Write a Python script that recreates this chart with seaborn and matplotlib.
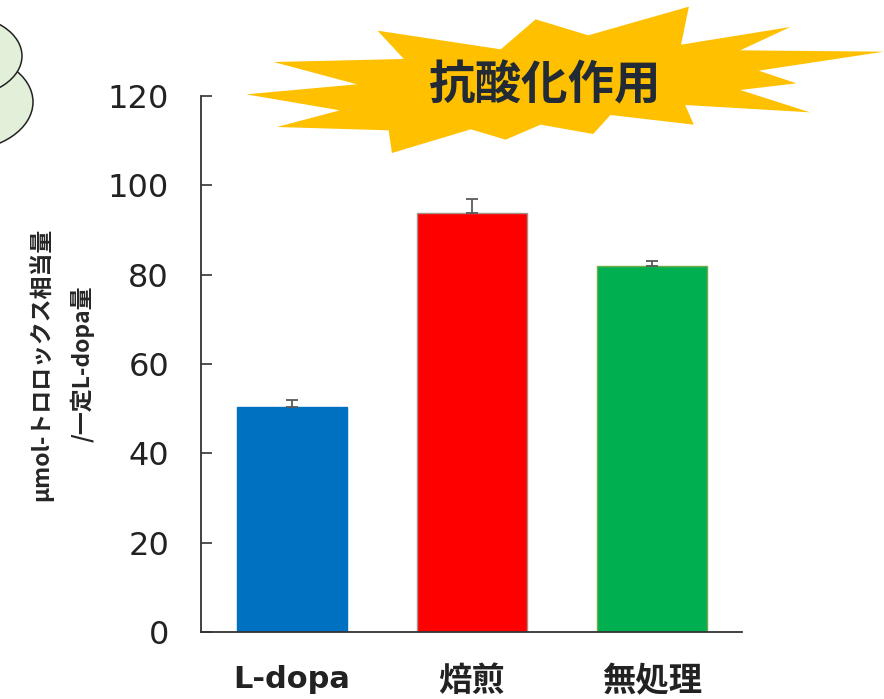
import matplotlib
matplotlib.use("Agg")
import matplotlib.pyplot as plt
from matplotlib.patches import Polygon, Ellipse
import pandas as pd
import seaborn as sns

categories = ["L-dopa", "焙煎", "無処理"]
values = [50.4, 93.8, 81.9]
errors = [1.6, 3.2, 1.1]
bar_colors = ["#0070C0", "#FF0000", "#00B050"]
edge_colors = ["#0070C0", "#A5908A", "#70AD47"]
y_ticks = [0, 20, 40, 60, 80, 100, 120]
y_label = "μmol-トロロックス相当量\n/一定L-dopa量"
burst_text = "抗酸化作用"

CJK = ["Noto Sans CJK JP", "DejaVu Sans"]
W, H = 884, 699

sns.set_theme(style="ticks", rc={"axes.edgecolor": "#333333", "xtick.color": "#222222",
                                 "ytick.color": "#333333", "text.color": "#222222"})
plt.rcParams["font.family"] = CJK

fig = plt.figure(figsize=(W / 100, H / 100), dpi=100, facecolor="white")
ax = fig.add_axes([201 / W, 1 - 632 / H, (742 - 201) / W, (632 - 96) / H])

df = pd.DataFrame({"category": categories, "value": values})
sns.barplot(data=df, x="category", y="value", hue="category", order=categories,
            hue_order=categories, palette=bar_colors, width=0.611, legend=False,
            errorbar=None, saturation=1, ax=ax)
for patch, ec in zip(ax.patches, edge_colors):
    patch.set_edgecolor(ec)
    patch.set_linewidth(1.0)
ax.errorbar(range(len(categories)), values, yerr=[[0] * 3, errors], fmt="none",
            ecolor="#5A5A5A", elinewidth=1.3, capsize=4, capthick=1.3, zorder=5)

ax.set_xlim(-0.5056, 2.5)
ax.set_ylim(0, 120)
ax.set_yticks(y_ticks)
ax.tick_params(axis="y", direction="in", length=8, width=1.2, labelsize=23, pad=23,
               labelcolor="#222222")
ax.tick_params(axis="x", length=0, pad=24)
for lab in ax.get_yticklabels():
    lab.set_fontfamily("DejaVu Sans")
ax.set_xticks(range(3))
ax.set_xticklabels(categories)
for lab, fam, size in zip(ax.get_xticklabels(), [["DejaVu Sans"], CJK, CJK], [22, 24, 24]):
    lab.set_fontfamily(fam)
    lab.set_fontsize(size)
    lab.set_fontweight("bold")
ax.set_xlabel("")
ax.set_ylabel(y_label, fontsize=16.5, fontweight="bold", linespacing=1.9, labelpad=0)
ax.yaxis.set_label_coords((95 - 201) / (742 - 201), 0.5)
sns.despine(ax=ax)
for s in ("left", "bottom"):
    ax.spines[s].set_linewidth(1.3)

# decorative layer in pixel coordinates
deco = fig.add_axes([0, 0, 1, 1], facecolor="none")
deco.set_xlim(0, W)
deco.set_ylim(H, 0)
deco.axis("off")
deco.add_patch(Ellipse((-40, 102), 146, 98, fc="#E2F0D9", ec="#222222", lw=1.1))
deco.add_patch(Ellipse((-40, 56), 124, 82, fc="#E2F0D9", ec="#222222", lw=1.1))
burst_zoom = [(335, 92), (635, 148), (720, 58), (848, 106), (1093, 20), (1074, 134), (1340, 81),
              (1218, 151), (1568, 155), (1263, 212), (1355, 250), (1218, 270), (1388, 337),
              (1084, 315), (1105, 374), (902, 345), (860, 402), (732, 374), (647, 419),
              (562, 388), (370, 459), (362, 391), (90, 381), (243, 331), (15, 283),
              (285, 253), (82, 186), (399, 177)]
deco.add_patch(Polygon([(240 + x / 2.435, y / 3) for x, y in burst_zoom], closed=True,
                       fc="#FFC000", ec="none"))
deco.text(544, 85, burst_text, ha="center", va="center", fontsize=33.5, fontweight="bold",
          color="#222A35", family=CJK)

fig.savefig("out.png", dpi=100, facecolor="white")
